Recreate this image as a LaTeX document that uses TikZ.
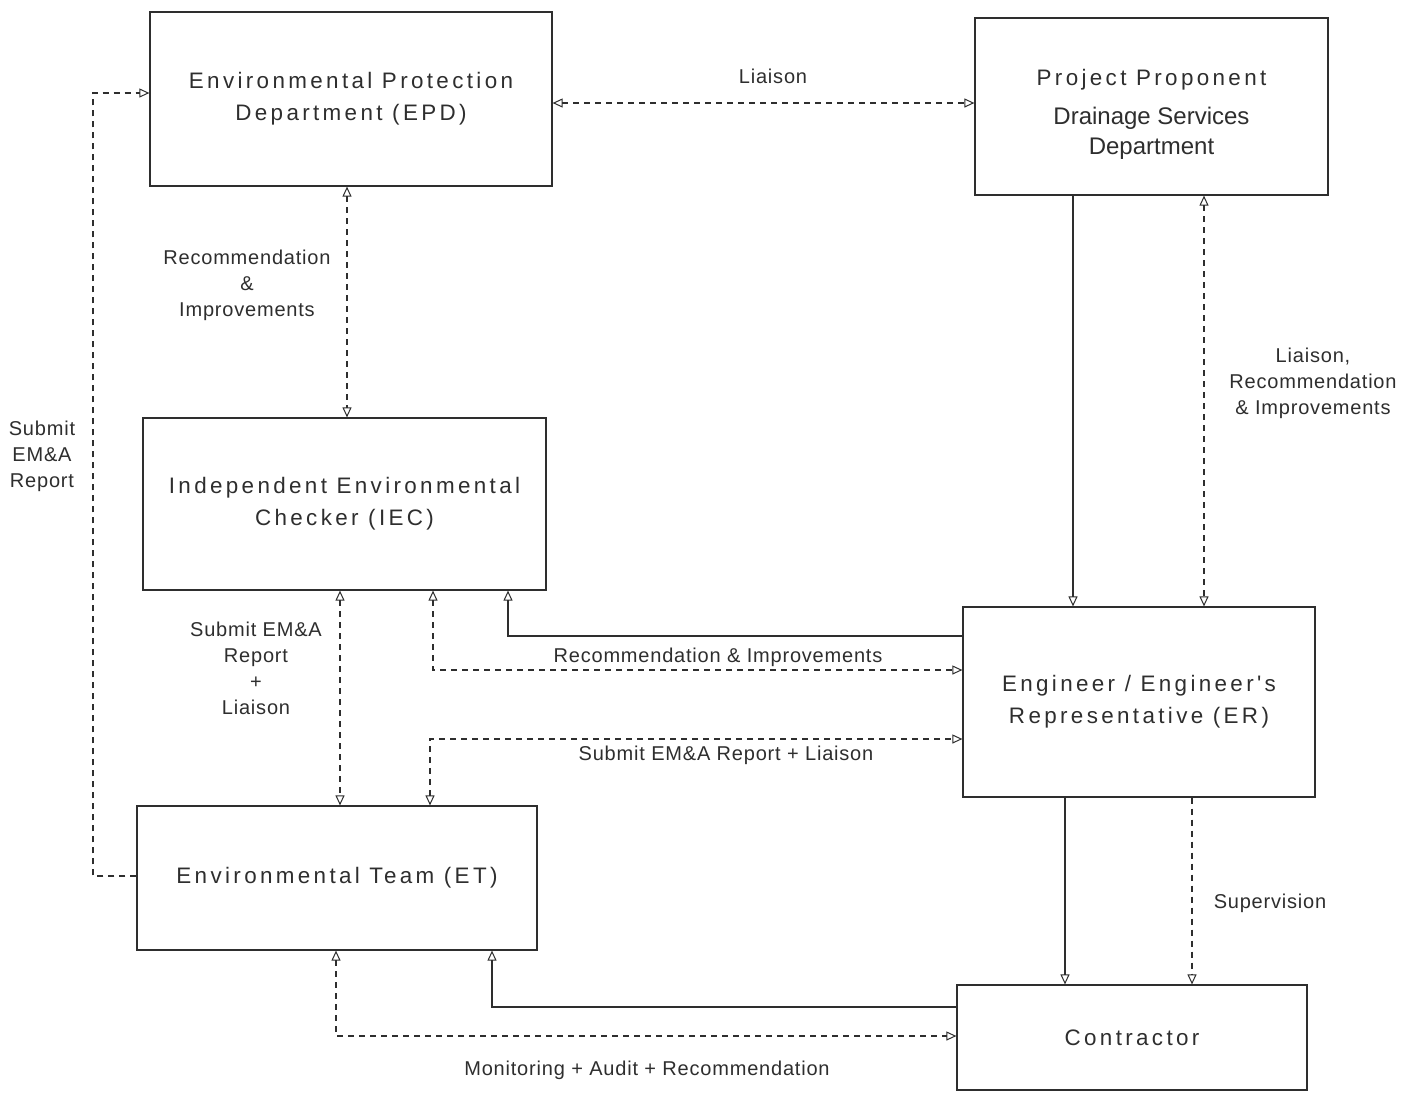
\documentclass[tikz,border=0pt]{standalone}
\usepackage{fontspec}
\setmainfont{Liberation Sans}
\newfontfamily\boxfont[LetterSpace=15]{Liberation Sans}
\newfontfamily\labfont[LetterSpace=4]{Liberation Sans}
\usetikzlibrary{arrows.meta}
\definecolor{ink}{gray}{0.18}
\begin{document}
\begin{tikzpicture}[x=0.5pt,y=-0.5pt,
  >={Triangle[open,length=5pt,width=4.5pt,line width=0.5pt]},
  box/.style={draw=ink, line width=0.6pt, inner sep=0pt, align=center, text=ink,
              font=\boxfont\fontsize{11.2}{16}\selectfont},
  lab/.style={align=center, text=ink, inner sep=0pt,
              font=\labfont\fontsize{10}{13}\selectfont},
  conn/.style={draw=ink, line width=0.55pt},
  dl/.style={conn, dash pattern=on 3pt off 2.5pt}]
\useasboundingbox[fill=white] (0,0) rectangle (1414,1094);

% boxes
\node[box, minimum width=201pt, minimum height=87pt] (epd) at (351,99)
  {Environmental Protection\\Department (EPD)};
\node[box, minimum width=176.5pt, minimum height=88.5pt] (pp) at (1151.5,106.5)
  {\raisebox{-3.5pt}[\height][\depth]{\begin{tabular}{@{}c@{}}Project Proponent\\[3.5pt]
   {\normalfont\fontsize{12}{15}\selectfont Drainage Services}\\[-1pt]
   {\normalfont\fontsize{12}{15}\selectfont Department}\end{tabular}}};
\node[box, minimum width=201.5pt, minimum height=86pt] (iec) at (344.5,504)
  {Independent Environmental\\Checker (IEC)};
\node[box, minimum width=176pt, minimum height=95pt] (er) at (1139,702)
  {Engineer / Engineer's\\Representative (ER)};
\node[box, minimum width=200pt, minimum height=72pt] (et) at (337,878)
  {Environmental Team (ET)};
\node[box, minimum width=175pt, minimum height=52.5pt] (con) at (1132,1037.5)
  {Contractor};

% connectors
\draw[dl,<->] (epd.east |- 0,103) -- (pp.west |- 0,103);
\draw[dl,<->] (epd.south -| 347,0) -- (iec.north -| 347,0);
\draw[dl,->] (et.west |- 0,876) -- (93,876) -- (93,93) -- (epd.west |- 0,93);
\draw[conn,->] (pp.south -| 1073,0) -- (er.north -| 1073,0);
\draw[dl,<->] (pp.south -| 1204,0) -- (er.north -| 1204,0);
\draw[dl,<->] (iec.south -| 340,0) -- (et.north -| 340,0);
\draw[conn,->] (er.west |- 0,636) -| (iec.south -| 508,0);
\draw[dl,<->] (iec.south -| 433,0) |- (er.west |- 0,670);
\draw[dl,<->] (et.north -| 430,0) |- (er.west |- 0,739);
\draw[conn,->] (er.south -| 1065,0) -- (con.north -| 1065,0);
\draw[dl,->] (er.south -| 1192,0) -- (con.north -| 1192,0);
\draw[conn,->] (con.west |- 0,1007) -| (et.south -| 492,0);
\draw[dl,<->] (et.south -| 336,0) |- (con.west |- 0,1036);

% labels
\node[lab] (l1) at (773,76) {Liaison};
\node[lab] (l2) at (247,285) {Recommendation\\\&\\Improvements};
\node[lab] (l3) at (42,456) {Submit\\EM\&A\\Report};
\node[lab] (l4) at (1313,383) {Liaison,\\Recommendation\\\& Improvements};
\node[lab] (l5) at (256,668) {Submit EM\&A\\Report\\+\\Liaison};
\node[lab] (l6) at (718,657) {Recommendation \& Improvements};
\node[lab] (l7) at (726,755) {Submit EM\&A Report + Liaison};
\node[lab] (l8) at (1270,903) {Supervision};
\node[lab] (l9) at (647,1070) {Monitoring + Audit + Recommendation};
\end{tikzpicture}
\end{document}
